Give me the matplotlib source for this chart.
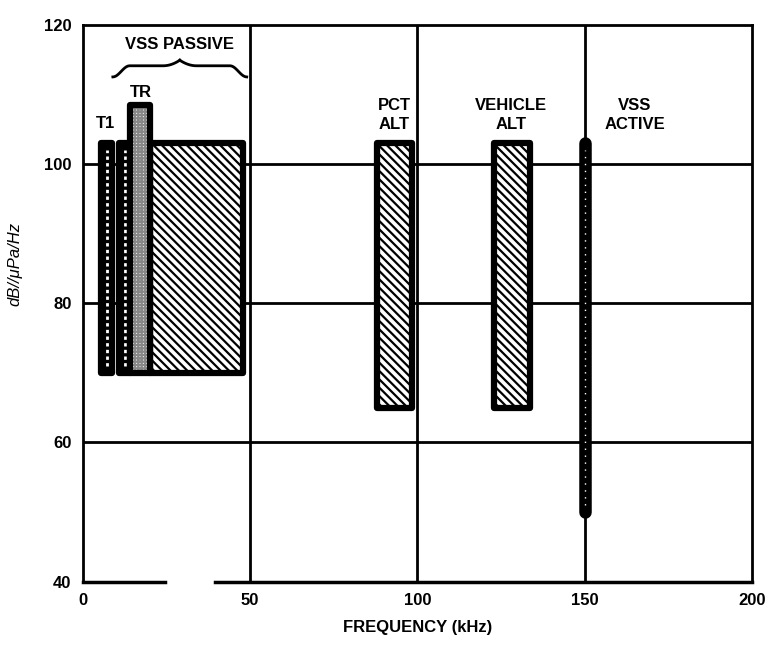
import numpy as np
import matplotlib
matplotlib.use("Agg")
import matplotlib.pyplot as plt

plt.rcParams['font.family'] = ['Liberation Sans', 'DejaVu Sans']
plt.rcParams['hatch.linewidth'] = 1.6

# bands (kHz / dB//uPa/Hz)
bands = ["T1", "VSS2", "TR", "VSS3", "PCT ALT", "VEHICLE ALT"]
f_lo = [5.5, 10.8, 14, 20, 88, 123]
f_hi = [8.8, 14.2, 20, 48, 98.5, 133.5]
lvl_lo = [70, 70, 70, 70, 65, 65]
lvl_hi = [103, 103, 108.5, 103, 103, 103]

# VSS active line
act_f = 150
act_lo, act_hi = 50, 103

x_ticks = [0, 50, 100, 150, 200]
y_ticks = [40, 60, 80, 100, 120]

styles = {"T1": "braid", "VSS2": "braid", "TR": "grid",
          "VSS3": "diag", "PCT ALT": "diag", "VEHICLE ALT": "diag"}

fig = plt.figure(figsize=(7.66, 6.5), dpi=100)
ax = fig.add_axes([0.108, 0.105, 0.874, 0.857])
ax.set_xlim(0, 200)
ax.set_ylim(40, 120)

for v in [50, 100, 150]:
    ax.axvline(v, color='black', lw=2, zorder=1)
for h in [60, 80, 100]:
    ax.axhline(h, color='black', lw=2, zorder=1)

for name, a, b, lo, hi in zip(bands, f_lo, f_hi, lvl_lo, lvl_hi):
    z = 3 if name == "TR" else 2
    st = styles[name]
    if st == "braid":
        ax.bar(a, hi - lo, width=b - a, bottom=lo, align='edge',
               facecolor='black', edgecolor='black', linewidth=4.5,
               joinstyle='round', zorder=z)
        ax.plot([(a + b) / 2] * 2, [lo + 1, hi - 1], color='white', lw=2,
                ls=(0, (1.2, 1.2)), zorder=z + 0.1)
    elif st == "grid":
        ax.bar(a, hi - lo, width=b - a, bottom=lo, align='edge',
               facecolor='white', edgecolor='#888888', linewidth=0,
               hatch='+++++', zorder=z)
        ax.bar(a, hi - lo, width=b - a, bottom=lo, align='edge',
               facecolor='none', edgecolor='black', linewidth=4.5,
               joinstyle='round', zorder=z)
    else:
        ax.bar(a, hi - lo, width=b - a, bottom=lo, align='edge',
               facecolor='white', edgecolor='black', linewidth=4.5,
               hatch='\\\\\\\\', joinstyle='round', zorder=z)

ax.plot([act_f, act_f], [act_lo, act_hi], color='black', lw=9,
        solid_capstyle='round', zorder=3)
ax.plot([act_f, act_f], [act_lo + 1, act_hi - 1], color='white', lw=1,
        ls=(0, (1, 4)), zorder=4)

# spines
for s in ['top', 'right', 'left']:
    ax.spines[s].set_linewidth(2)
ax.spines['bottom'].set_visible(False)
ax.plot([0, 24.5], [40, 40], color='black', lw=2.5, clip_on=False, zorder=5)
ax.plot([39.5, 200], [40, 40], color='black', lw=2.5, clip_on=False, zorder=5)

ax.set_xticks(x_ticks)
ax.set_yticks(y_ticks)
ax.tick_params(length=0, labelsize=12, pad=8)
for lab in ax.get_xticklabels() + ax.get_yticklabels():
    lab.set_fontweight('bold')

ax.set_xlabel("FREQUENCY (kHz)", fontsize=12, fontweight='bold')
ax.xaxis.set_label_coords(0.5, -0.068)
ax.set_ylabel("dB//\u03bcPa/Hz", fontsize=12, style='italic')
ax.yaxis.set_label_coords(-0.09, 0.57)

# labels
kw = dict(fontsize=12, fontweight='bold', ha='center', va='center', zorder=6)
ax.text(29, 117.2, "VSS PASSIVE", **kw)
ax.text(17.5, 110.3, "TR", **kw)
ax.text(6.8, 105.8, "T1", **kw)
ax.text(93, 107, "PCT\nALT", linespacing=1.35, **kw)
ax.text(128, 107, "VEHICLE\nALT", linespacing=1.35, **kw)
ax.text(165, 107, "VSS\nACTIVE", linespacing=1.35, **kw)

# curly brace over the passive bands
def brace(x0, x1, y, h):
    xm = (x0 + x1) / 2
    t = np.linspace(0, 1, 50)
    xs = x0 + (xm - x0) * t
    yy = y + h * 0.5 * (1 - np.cos(np.pi * np.clip(t * 4, 0, 1))) \
        + h * 0.5 * np.clip((t - 0.75) * 4, 0, 1) ** 2
    ax.plot(xs, yy, color='black', lw=2, zorder=6, clip_on=False)
    ax.plot(x1 - (xs - x0), yy, color='black', lw=2, zorder=6, clip_on=False)

brace(9, 49, 112.5, 1.6)

fig.savefig("out.png", dpi=100)
